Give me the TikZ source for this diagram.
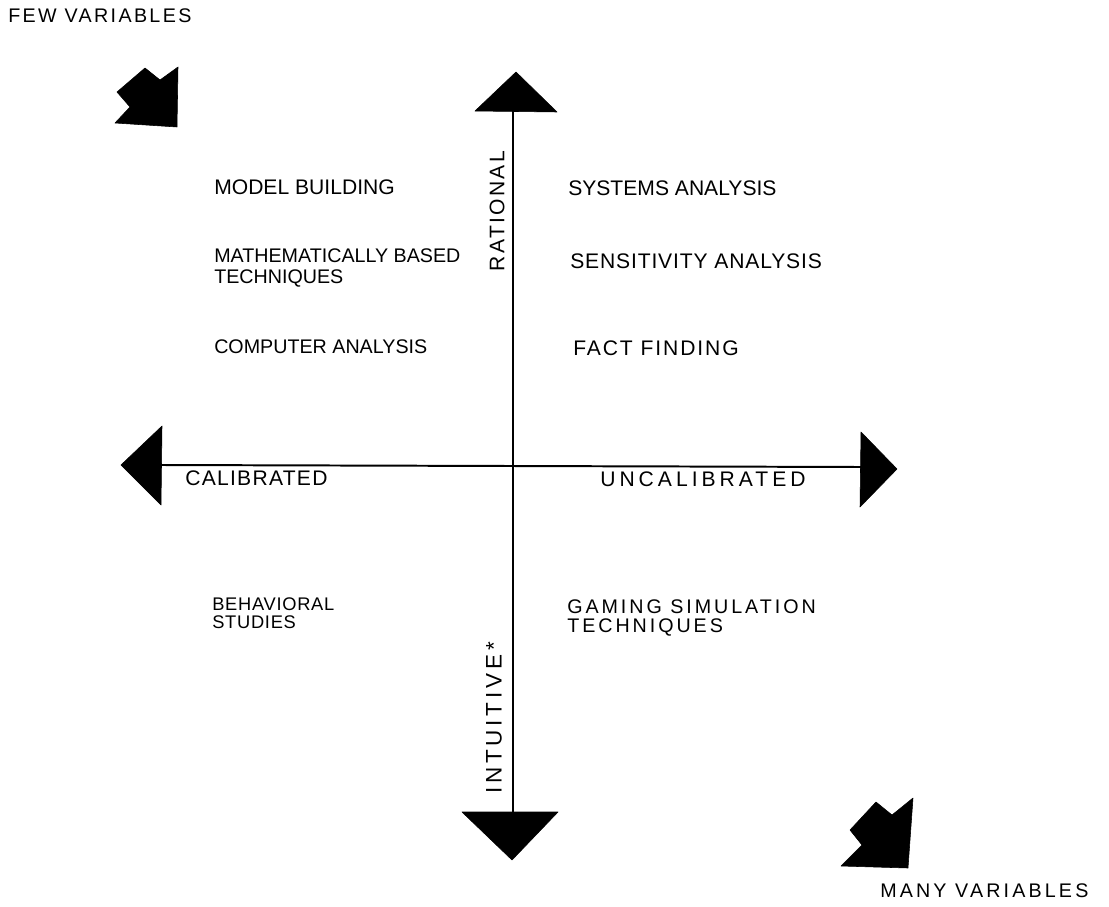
\documentclass[tikz,border=0pt]{standalone}
\usepackage{fontspec}
\setmainfont{Liberation Sans}
\usepackage{tikz}
\usetikzlibrary{positioning,calc}

\begin{document}
\begin{tikzpicture}[
    x=0.025cm,
    y=-0.025cm,
    font=\fontsize{15}{16}\selectfont,
    lbl/.style={
        anchor=west,
        inner sep=0pt,
        align=left
    },
    sp/.style={
        font=\fontsize{15}{16}\selectfont\addfontfeature{LetterSpace=#1}
    },
    axis/.style={
        line width=1.8pt,
        black
    },
    head/.style={
        fill=black,
        draw=black,
        line join=round
    },
    vlbl/.style={
        rotate=90,
        inner sep=0pt
    }
]
\useasboundingbox (0,0) rectangle (1109,906);

% axis ends
\coordinate (top) at (513,110);
\coordinate (bottom) at (513,812);
\coordinate (left) at (162,465);
\coordinate (right) at (861,467);

\draw[axis] (top) -- (bottom);
\draw[axis, line width=1.4pt] (left) -- (right);

% arrow heads
\fill[head] (516,72) -- (475,111) -- (557,112) -- cycle;
\fill[head] (462,812) -- (558,812) -- (512,860) -- cycle;
\fill[head] (121,465) -- (162,426) -- (161,505) -- cycle;
\fill[head] (861,432) -- (897,469) -- (860,507) -- cycle;

% variable markers
\fill[head] (178,67) -- (177,127) -- (115,123) -- (130,107) -- (117,92)
    -- (145,68) -- (160,80) -- cycle;
\fill[head] (913,798) -- (908,868) -- (841,866) -- (862,845) -- (850,830)
    -- (876,802) -- (892,815) -- cycle;

% corner labels
\node[lbl, sp=9, font=\fontsize{14}{15}\selectfont\addfontfeature{LetterSpace=12}] (few) at (8,16) {FEW VARIABLES};
\node[lbl, font=\fontsize{14}{15}\selectfont\addfontfeature{LetterSpace=16}] (many) at (880,891) {MANY VARIABLES};

% axis labels
\node[vlbl, sp=11] (rational) at (497,211) {RATIONAL};
\node[vlbl, font=\fontsize{16}{16}\selectfont\addfontfeature{LetterSpace=17}] (intuitive) at (494,718) {INTUITIVE*};
\node[lbl, sp=6] (calib) at (185,478) {CALIBRATED};
\node[lbl, sp=19] (uncalib) at (600,479) {UNCALIBRATED};

% upper left
\node[lbl] (model) at (214,187) {MODEL BUILDING};
\node[lbl, font=\fontsize{14}{15.5}\selectfont] (math) at (214,268) {MATHEMATICALLY BASED\\TECHNIQUES};
\node[lbl, font=\fontsize{14}{15}\selectfont] (computer) at (214,347) {COMPUTER ANALYSIS};

% upper right
\node[lbl] (systems) at (568,188) {SYSTEMS ANALYSIS};
\node[lbl, sp=4] (sensitivity) at (570,261) {SENSITIVITY ANALYSIS};
\node[lbl, sp=9] (fact) at (573,348) {FACT FINDING};

% lower quadrants
\node[lbl, font=\fontsize{13}{13}\selectfont\addfontfeature{LetterSpace=4}] (behav) at (212,613) {BEHAVIORAL\\STUDIES};
\node[lbl, font=\fontsize{14}{13.5}\selectfont\addfontfeature{LetterSpace=15}] (gaming) at (567,618) {GAMING SIMULATION\\TECHNIQUES};

\end{tikzpicture}
\end{document}
